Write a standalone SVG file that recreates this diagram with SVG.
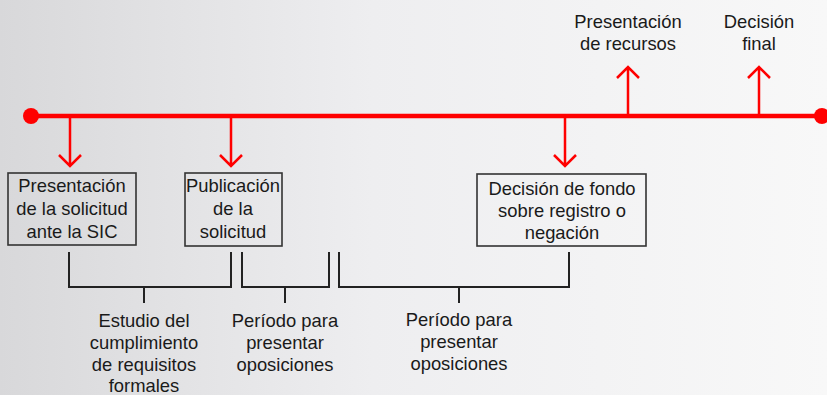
<svg xmlns="http://www.w3.org/2000/svg" width="827" height="395" viewBox="0 0 827 395">
<defs>
<linearGradient id="bg" x1="0" y1="0" x2="1" y2="0">
<stop offset="0" stop-color="#d8d8da"/>
<stop offset="0.45" stop-color="#eeeef0"/>
<stop offset="1" stop-color="#f8f8f8"/>
</linearGradient>
<style>
.red{stroke:#ff0000;stroke-width:2.5;fill:none}
.main{stroke:#ff0000;stroke-width:4.5;fill:none}
.box{fill:none;stroke:#333;stroke-width:1.6}
.br{stroke:#222;stroke-width:2;fill:none}
text{font-family:"Liberation Sans",Arial,sans-serif;font-size:18.4px;fill:#1a1a1a;text-anchor:middle}
</style>
</defs>
<rect width="827" height="395" fill="url(#bg)"/>
<g id="connectors">
<line class="main" x1="31" y1="116" x2="822" y2="116"/>
<circle cx="31" cy="116" r="8" fill="#ff0000"/>
<circle cx="822" cy="116" r="8" fill="#ff0000"/>
<path class="red" d="M70 116V166M59 155L70 166L81 155"/>
<path class="red" d="M231 116V166M220 155L231 166L242 155"/>
<path class="red" d="M565 116V166M554 155L565 166L576 155"/>
<path class="red" d="M628 116V67M617 78L628 67L639 78"/>
<path class="red" d="M759 116V67M748 78L759 67L770 78"/>
<path class="br" d="M69 252V287H231V252M144 287V303"/>
<path class="br" d="M242 252V287H329V252M285 287V303"/>
<path class="br" d="M339 252V287H569V252M459 287V303"/>
</g>
<g id="n1">
<rect class="box" x="8" y="173" width="128" height="72"/>
<text x="72" y="192">Presentación</text>
<text x="72" y="215">de la solicitud</text>
<text x="72" y="238">ante la SIC</text>
</g>
<g id="n2">
<rect class="box" x="185" y="173" width="97" height="73"/>
<text x="233" y="192">Publicación</text>
<text x="233" y="215">de la</text>
<text x="233" y="238">solicitud</text>
</g>
<g id="n3">
<rect class="box" x="477" y="174" width="169" height="72"/>
<text x="562" y="195">Decisión de fondo</text>
<text x="562" y="217">sobre registro o</text>
<text x="562" y="239">negación</text>
</g>
<g id="n4">
<text x="628" y="28">Presentación</text>
<text x="628" y="50">de recursos</text>
</g>
<g id="n5">
<text x="759" y="28">Decisión</text>
<text x="759" y="50">final</text>
</g>
<g id="n6">
<text x="144" y="327">Estudio del</text>
<text x="144" y="349">cumplimiento</text>
<text x="144" y="371">de requisitos</text>
<text x="144" y="392">formales</text>
</g>
<g id="n7">
<text x="285" y="327">Período para</text>
<text x="285" y="349">presentar</text>
<text x="285" y="371">oposiciones</text>
</g>
<g id="n8">
<text x="459" y="326">Período para</text>
<text x="459" y="348">presentar</text>
<text x="459" y="370">oposiciones</text>
</g>
</svg>
